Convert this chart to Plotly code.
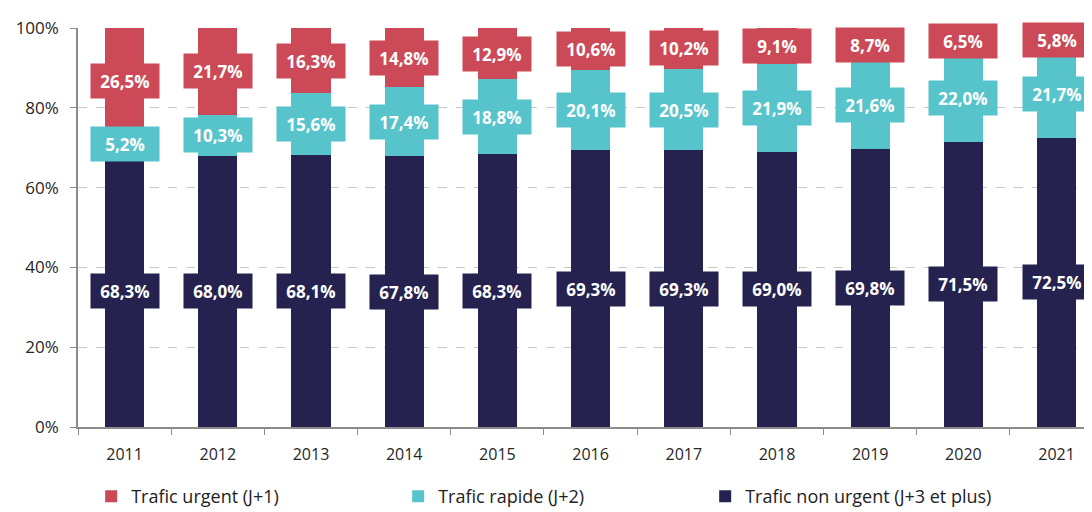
from __future__ import annotations

import plotly.graph_objects as go

YEARS = ["2011", "2012", "2013", "2014", "2015", "2016", "2017", "2018", "2019", "2020", "2021"]
NON_URGENT = [68.3, 68.0, 68.1, 67.8, 68.3, 69.3, 69.3, 69.0, 69.8, 71.5, 72.5]
RAPIDE = [5.2, 10.3, 15.6, 17.4, 18.8, 20.1, 20.5, 21.9, 21.6, 22.0, 21.7]
URGENT = [26.5, 21.7, 16.3, 14.8, 12.9, 10.6, 10.2, 9.1, 8.7, 6.5, 5.8]
Y_TICKS = [0, 20, 40, 60, 80, 100]

FONT = "Open Sans, Liberation Sans, sans-serif"


def _fmt(v: float) -> str:
    return f"{v:.1f}%".replace(".", ",")


def build_traffic_chart() -> go.Figure:
    series = [("Trafic non urgent (J+3 et plus)", NON_URGENT, "#25224f"), ("Trafic rapide (J+2)", RAPIDE, "#57c4cc"), ("Trafic urgent (J+1)", URGENT, "#cc4a57")]
    fig = go.Figure(); base = [0.0] * len(YEARS)
    for name, vals, color in series:
        fig.add_trace(go.Bar(x=YEARS, y=vals, name=name, marker=dict(color=color, line=dict(width=0)), width=0.42))
        for i, (b, v) in enumerate(zip(base, vals)):  # label box in the middle of each segment
            fig.add_annotation(x=i, y=b + v / 2, xref="x", yref="y", text=f"<b>{_fmt(v)}</b>", showarrow=False, bgcolor=color, borderpad=6, width=56, height=22, font=dict(color="white", size=17, family=FONT))
        base = [b + v for b, v in zip(base, vals)]
    # page body keeps its 8px margin, so the figure is a bit smaller than the window
    fig.update_layout(barmode="stack", width=1084, height=504, template="plotly_white", plot_bgcolor="white", paper_bgcolor="white", margin=dict(l=70, r=0, t=20, b=85, autoexpand=False), font=dict(family=FONT, size=16, color="#262626"),
                      legend=dict(orientation="h", traceorder="reversed", x=0.013, y=-0.128, xanchor="left", yanchor="top", entrywidth=262, entrywidthmode="pixels", font=dict(size=18, color="#222222")))
    fig.update_yaxes(range=[0, 100], tickvals=Y_TICKS, ticktext=[f"{t}%" for t in Y_TICKS], showgrid=True, gridcolor="#c8c8c8", griddash="dash", gridwidth=1, showline=True, linecolor="#8c8c8c", linewidth=1.5, ticks="outside", ticklen=6, tickcolor="#8c8c8c", zeroline=False, tickfont=dict(size=17), ticklabelstandoff=8)
    fig.update_xaxes(type="category", range=[-0.5, 10.38], showline=True, linecolor="#8c8c8c", linewidth=1.5, ticks="outside", tickson="boundaries", ticklen=6, tickcolor="#8c8c8c", showgrid=False, ticklabelstandoff=12)
    return fig


fig = build_traffic_chart()
fig.write_html("out.html")
